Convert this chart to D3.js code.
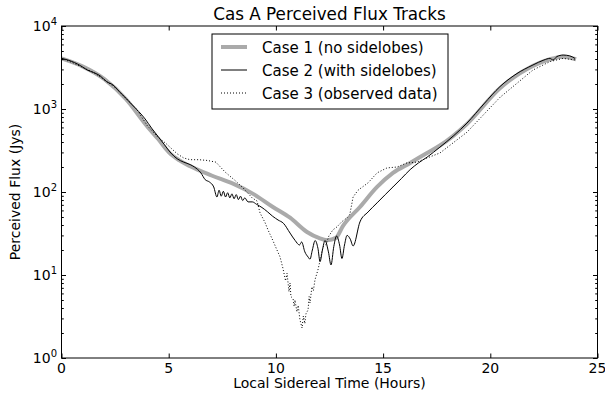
<!DOCTYPE html>
<html>
<head>
<meta charset="utf-8">
<script src="https://cdn.jsdelivr.net/npm/d3@7"></script>
<style>
body { margin: 0; background: #fff; }
text { font-family: "DejaVu Sans", sans-serif; fill: #000; }
</style>
</head>
<body>
<div id="display"><svg width="605" height="394"></svg></div>
<script>
// Case 1: no sidelobes (smooth grey track)
var case1Hours = [0, 1, 2, 3, 4, 4.5, 5, 5.5, 6, 7, 8, 9, 9.86, 10.66, 11.45, 12.0, 12.4, 12.8,
    13.13, 13.92, 14.72, 15.46, 16.26, 17.05, 17.65, 18.91, 20.45, 21.99, 22.78, 23.4, 24.0];
var case1Flux = [4070, 3240, 2290, 1320, 617, 437, 302, 240, 204, 158, 126, 93, 66, 49, 33, 28, 26.3, 28,
    39, 66, 115, 170, 224, 295, 363, 661, 1780, 3310, 3980, 4270, 3980];

// Case 2: with sidelobes
var case2Hours = [0.0, 0.3, 0.6, 0.9, 1.2, 1.5, 1.8, 2.1, 2.4, 2.7, 3.0, 3.3, 3.6, 3.9, 4.2, 4.5, 4.8,
    5.1, 5.4, 5.7, 6.0, 6.2, 6.5, 6.7, 6.9, 7.1, 7.25, 7.35, 7.45, 7.55, 7.65, 7.75, 7.85, 7.95,
    8.05, 8.15, 8.25, 8.35, 8.45, 8.55, 8.7, 8.9, 9.1, 9.35, 9.6, 9.85, 10.1, 10.35, 10.66, 10.9,
    11.1, 11.2, 11.35, 11.5, 11.59, 11.7, 11.83, 11.96, 12.06, 12.17, 12.29, 12.45, 12.57, 12.7,
    12.83, 12.97, 13.08, 13.2, 13.32, 13.47, 13.6, 13.92, 14.3,
    14.72, 15.1, 15.46, 15.85, 16.26, 16.65, 17.05, 17.65, 18.3, 18.91, 19.7, 20.45, 21.2, 21.99,
    22.5, 22.78, 22.93, 23.1, 23.4, 23.7, 23.95];
var case2Flux = [4070, 3890, 3630, 3310, 2950, 2750, 2510, 2140, 1950, 1620, 1350, 1120, 933, 759, 589, 468, 372,
    295, 251, 229, 214, 200, 170, 141, 132, 115, 87, 105, 89, 102, 87, 98, 85, 95,
    83, 93, 81, 89, 79, 85, 76, 76, 71, 65, 58, 51, 46, 42, 32, 26,
    23, 25, 19, 16.5, 15.5, 20, 26, 21, 14.5, 20, 26, 19, 13.2, 22,
    29.5, 23, 15.8, 23, 30, 27, 22.4, 43.6, 57.5,
    74, 93, 115, 145, 186, 224, 263, 347, 479, 676, 1150, 1860, 2630, 3390,
    3890, 4070, 3890, 4270, 4470, 4370, 4070];

// Case 3: observed data
var case3Hours = [0.0, 0.5, 1.0, 1.5, 2.0, 2.5, 3.0, 3.5, 4.0, 4.5, 4.85, 5.1, 5.4, 5.7, 6.0, 6.4, 6.8,
    7.2, 7.63, 8.09, 8.47, 8.89, 9.12, 9.26, 9.49, 9.63, 9.86, 10.05, 10.19, 10.33, 10.45, 10.52,
    10.61, 10.66, 10.70, 10.80, 10.85, 10.89, 10.98, 11.04, 11.12, 11.22, 11.28, 11.35, 11.40,
    11.50, 11.55, 11.59, 11.68, 11.75, 11.82, 11.96, 12.06, 12.20, 12.33, 12.47, 12.66, 12.85,
    13.08, 13.32, 13.45, 13.60, 13.83, 14.30,
    14.72, 15.18, 15.65, 16.11, 16.58, 17.05, 17.65, 18.91, 20.45, 21.99, 22.78, 23.39, 24.0];
var case3Flux = [4070, 3630, 3160, 2750, 2240, 1820, 1350, 1000, 631, 457, 389, 339, 288, 257, 245, 245, 240,
    229, 174, 138, 112, 85, 78, 56, 43, 35, 26, 20, 16.6, 12, 8.5, 10.5,
    6.3, 8, 5.5, 5.2, 4.2, 5.0, 3.6, 4.3, 2.9, 2.3, 3.2, 2.6, 3.4,
    3.8, 5.5, 4.6, 7.2, 6.5, 8.7, 11.5, 15, 22, 23, 29.5, 35, 38,
    44, 49, 54, 87, 105, 129,
    170, 195, 200, 224, 229, 257, 295, 525, 1380, 2950, 3720, 4070, 3890];

var xTicks = [0, 5, 10, 15, 20, 25];
var yExponents = [0, 1, 2, 3, 4];
var legendLabels = ["Case 1 (no sidelobes)", "Case 2 (with sidelobes)", "Case 3 (observed data)"];

var margin = { left: 61.5, right: 597.5, top: 26, bottom: 358 };

function init() {
    var canvas = d3.select("#display svg");
    var x = d3.scaleLinear().domain([0, 25]).range([margin.left, margin.right]);
    var y = d3.scaleLog().domain([1, 1e4]).range([margin.bottom, margin.top]);

    var series = [
	{ hours: case1Hours, flux: case1Flux, color: "#aaaaaa", width: 4, dash: null, curve: d3.curveMonotoneX },
	{ hours: case2Hours, flux: case2Flux, color: "#000", width: 1, dash: null, curve: d3.curveMonotoneX },
	{ hours: case3Hours, flux: case3Flux, color: "#000", width: 1, dash: "1,2", curve: d3.curveLinear }
    ];

    series.forEach(function (s) {
	var pts = s.hours.map(function (h, i) { return [h, s.flux[i]]; });
	var line = d3.line()
	    .x(function (d) { return x(d[0]); })
	    .y(function (d) { return y(d[1]); })
	    .curve(s.curve);
	canvas.append("path")
	    .datum(pts)
	    .attr("d", line)
	    .style("fill", "none")
	    .style("stroke", s.color)
	    .style("stroke-width", s.width)
	    .style("stroke-linejoin", "round")
	    .style("stroke-dasharray", s.dash);
    });

    // axes, ticks pointing inward on all four sides
    var bottom = d3.axisTop(x).tickValues(xTicks).tickSize(4.5).tickFormat("");
    var top = d3.axisBottom(x).tickValues(xTicks).tickSize(4.5).tickFormat("");
    var minor = [];
    yExponents.slice(0, -1).forEach(function (e) {
	for (var k = 2; k < 10; k++) minor.push(k * Math.pow(10, e));
    });
    var majors = yExponents.map(function (e) { return Math.pow(10, e); });

    canvas.append("g").attr("transform", "translate(0," + margin.bottom + ")").call(bottom);
    canvas.append("g").attr("transform", "translate(0," + margin.top + ")").call(top);
    canvas.append("g").attr("transform", "translate(" + margin.left + ",0)")
	.call(d3.axisRight(y).tickValues(majors).tickSize(4.5).tickFormat(""));
    canvas.append("g").attr("transform", "translate(" + margin.left + ",0)")
	.call(d3.axisRight(y).tickValues(minor).tickSize(2.3).tickFormat(""));
    canvas.append("g").attr("transform", "translate(" + margin.right + ",0)")
	.call(d3.axisLeft(y).tickValues(majors).tickSize(4.5).tickFormat(""));
    canvas.append("g").attr("transform", "translate(" + margin.right + ",0)")
	.call(d3.axisLeft(y).tickValues(minor).tickSize(2.3).tickFormat(""));
    canvas.selectAll(".domain").remove();
    canvas.selectAll(".tick line").style("stroke", "#000").style("stroke-width", 1);

    canvas.append("rect")
	.attr("x", margin.left).attr("y", margin.top)
	.attr("width", margin.right - margin.left)
	.attr("height", margin.bottom - margin.top)
	.style("fill", "none").style("stroke", "#000").style("stroke-width", 1);

    // tick labels
    canvas.selectAll(".xlab").data(xTicks).enter().append("text")
	.attr("x", function (d) { return x(d); })
	.attr("y", 373)
	.attr("text-anchor", "middle")
	.style("font-size", "14px")
	.text(function (d) { return d; });

    var ylab = canvas.selectAll(".ylab").data(yExponents).enter().append("text")
	.attr("x", 57)
	.attr("y", function (d) { return y(Math.pow(10, d)) + 5; })
	.attr("text-anchor", "end")
	.style("font-size", "14px");
    ylab.append("tspan").text("10");
    ylab.append("tspan").attr("dy", -6).style("font-size", "10px").text(function (d) { return d; });

    canvas.append("text")
	.attr("x", (margin.left + margin.right) / 2).attr("y", 20)
	.attr("text-anchor", "middle").style("font-size", "16.8px")
	.text("Cas A Perceived Flux Tracks");
    canvas.append("text")
	.attr("x", (margin.left + margin.right) / 2).attr("y", 388)
	.attr("text-anchor", "middle").style("font-size", "14px")
	.text("Local Sidereal Time (Hours)");
    canvas.append("text")
	.attr("transform", "translate(20," + (margin.top + margin.bottom) / 2 + ") rotate(-90)")
	.attr("text-anchor", "middle").style("font-size", "14px")
	.text("Perceived Flux (Jys)");

    // legend
    var lg = canvas.append("g").attr("transform", "translate(212,34)");
    lg.append("rect").attr("width", 236).attr("height", 75)
	.style("fill", "#fff").style("stroke", "#000").style("stroke-width", 1);
    legendLabels.forEach(function (label, i) {
	var s = series[i], ly = 13 + i * 23;
	lg.append("line").attr("x1", 9).attr("x2", 35).attr("y1", ly).attr("y2", ly)
	    .style("stroke", s.color).style("stroke-width", s.width)
	    .style("stroke-dasharray", s.dash);
	lg.append("text").attr("x", 50).attr("y", ly + 5.5)
	    .style("font-size", "15px").text(label);
    });
}

document.addEventListener("DOMContentLoaded", init, false);
</script>
</body>
</html>
